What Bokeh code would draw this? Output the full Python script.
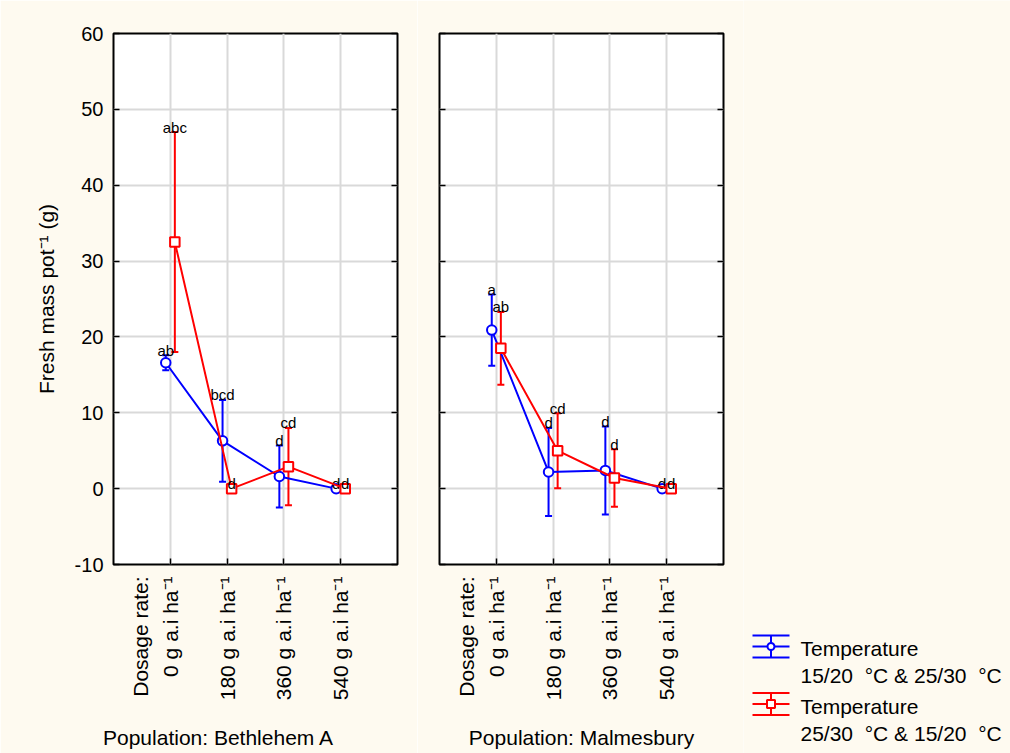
import math
from bokeh.plotting import figure
from bokeh.layouts import row, column
from bokeh.models import (ColumnDataSource, Whisker, FixedTicker, LinearAxis, Grid,
                          Range1d, CustomJSTickFormatter, TeeHead)
from bokeh.embed import file_html
from bokeh.resources import INLINE
from bokeh.core.properties import value

# ---------------- data ----------------
dose_positions = [0, 1, 2, 3]
dose_labels = ["0 g a.i ha⁻¹", "180 g a.i ha⁻¹", "360 g a.i ha⁻¹", "540 g a.i ha⁻¹"]
dose_title = "Dosage rate:"
y_ticks = [-10, 0, 10, 20, 30, 40, 50, 60]
y_tick_labels = ["-10", "0", "10", "20", "30", "40", "50", "60"]

series_names = ["Temperature\n15/20\u00a0 °C & 25/30\u00a0 °C",
                "Temperature\n25/30\u00a0 °C & 15/20\u00a0 °C"]

bethlehem_1520_mean = [16.6, 6.3, 1.6, 0.0]
bethlehem_1520_err = [1.0, 5.4, 4.1, 0.0]
bethlehem_1520_letters = ["ab", "bcd", "d", "d"]
bethlehem_2530_mean = [32.5, 0.0, 2.9, 0.0]
bethlehem_2530_err = [14.5, 0.0, 5.1, 0.0]
bethlehem_2530_letters = ["abc", "d", "cd", "d"]

malmesbury_1520_mean = [20.9, 2.2, 2.4, 0.0]
malmesbury_1520_err = [4.7, 5.8, 5.8, 0.0]
malmesbury_1520_letters = ["a", "d", "d", "d"]
malmesbury_2530_mean = [18.5, 5.0, 1.4, 0.0]
malmesbury_2530_err = [4.8, 4.95, 3.8, 0.0]
malmesbury_2530_letters = ["ab", "cd", "d", "d"]

# ---------------- style ----------------
FONT = "Liberation Sans"
CREAM = "#FEFAF0"
BLUE = "#0000FF"
RED = "#FF0000"
GRID = "#D9D9D9"
OFFSET = 0.08
FRAME_W = 284
FRAME_TOP = 33
FRAME_BOTTOM_BORDER = 189
HEIGHT = 753
DOSAGE_TITLE_X = -0.52


def style_axis(ax):
    ax.major_tick_in = 6
    ax.major_tick_out = 0
    ax.minor_tick_in = 0
    ax.minor_tick_out = 0
    ax.major_tick_line_color = "black"
    ax.major_tick_line_width = 1.5
    ax.axis_line_color = None


def empty_axis(ticks):
    ax = LinearAxis(ticker=FixedTicker(ticks=ticks),
                    formatter=CustomJSTickFormatter(code="return ''"))
    style_axis(ax)
    ax.major_label_standoff = 0
    return ax


def text_axis(ticks, labels, size, standoff, orientation="horizontal"):
    ax = LinearAxis(ticker=FixedTicker(ticks=ticks),
                    major_label_overrides={t: lab for t, lab in zip(ticks, labels)})
    ax.major_tick_in = 0
    ax.major_tick_out = 0
    ax.major_tick_line_color = None
    ax.minor_tick_line_color = None
    ax.axis_line_color = None
    ax.major_label_orientation = orientation
    ax.major_label_standoff = standoff
    ax.major_label_text_font = FONT
    ax.major_label_text_font_size = size
    ax.major_label_text_color = "black"
    return ax


def make_panel(blue_mean, blue_err, blue_letters, red_mean, red_err, red_letters,
               population, pop_x, border_left, with_ylabels):
    width = border_left + FRAME_W + 20
    p = figure(width=width, height=HEIGHT, x_range=Range1d(-1, 4), y_range=Range1d(-10, 60),
               output_backend="svg", toolbar_location=None,
               min_border_left=border_left, min_border_right=20,
               min_border_top=FRAME_TOP, min_border_bottom=FRAME_BOTTOM_BORDER,
               background_fill_color="white", border_fill_color=CREAM,
               outline_line_color="black", outline_line_width=2,
               x_axis_type=None, y_axis_type=None)

    # bottom: inward tick marks, rotated dose labels, population label
    p.add_layout(empty_axis(dose_positions), "below")
    p.add_layout(text_axis([DOSAGE_TITLE_X] + dose_positions, [dose_title] + dose_labels,
                           "21px", 12, math.pi / 2), "below")
    p.add_layout(text_axis([pop_x], [population], "21px", 22), "below")

    if with_ylabels:
        yax = LinearAxis(ticker=FixedTicker(ticks=y_ticks),
                         major_label_overrides={t: lab for t, lab in zip(y_ticks, y_tick_labels)})
        style_axis(yax)
        yax.major_label_standoff = 10
        yax.major_label_text_font = FONT
        yax.major_label_text_font_size = "20px"
        yax.major_label_text_color = "black"
        yax.axis_label = "Fresh mass pot⁻¹ (g)"
        yax.axis_label_text_font = FONT
        yax.axis_label_text_font_size = "21px"
        yax.axis_label_text_font_style = "normal"
        yax.axis_label_text_color = "black"
        yax.axis_label_standoff = 14
    else:
        yax = empty_axis(y_ticks)
    p.add_layout(yax, "left")
    p.add_layout(empty_axis(y_ticks), "right")

    p.add_layout(Grid(dimension=0, ticker=FixedTicker(ticks=dose_positions),
                      grid_line_color=GRID, grid_line_width=2))
    p.add_layout(Grid(dimension=1, ticker=FixedTicker(ticks=y_ticks),
                      grid_line_color=GRID, grid_line_width=2))

    for mean, err, letters, color, marker, off in [
        (blue_mean, blue_err, blue_letters, BLUE, "circle", -OFFSET),
        (red_mean, red_err, red_letters, RED, "square", OFFSET),
    ]:
        xs = [d + off for d in dose_positions]
        src = ColumnDataSource(dict(
            x=xs, y=mean,
            upper=[m + e for m, e in zip(mean, err)],
            lower=[m - e for m, e in zip(mean, err)],
            letters=letters))
        p.add_layout(Whisker(base="x", upper="upper", lower="lower", source=src,
                             line_color=color, line_width=2,
                             upper_head=TeeHead(size=7, line_color=color, line_width=2),
                             lower_head=TeeHead(size=7, line_color=color, line_width=2)))
        p.line("x", "y", source=src, line_color=color, line_width=2)
        p.scatter("x", "y", source=src, marker=marker, size=9.5, line_color=color,
                  line_width=2, fill_color="white")
        p.text("x", "upper", text="letters", source=src, text_align="center",
               text_baseline="alphabetic", y_offset=-5, text_font=value(FONT),
               text_font_size="15px", text_color="black")
    return p


p1 = make_panel(bethlehem_1520_mean, bethlehem_1520_err, bethlehem_1520_letters,
                bethlehem_2530_mean, bethlehem_2530_err, bethlehem_2530_letters,
                "Population: Bethlehem A", 0.85, 113, True)
p2 = make_panel(malmesbury_1520_mean, malmesbury_1520_err, malmesbury_1520_letters,
                malmesbury_2530_mean, malmesbury_2530_err, malmesbury_2530_letters,
                "Population: Malmesbury", 1.5, 22, False)

# ---------------- legend panel (pixel coordinates) ----------------
LEG_X0 = 743
p3 = figure(width=1010 - LEG_X0, height=HEIGHT, x_range=Range1d(LEG_X0, 1010),
            y_range=Range1d(HEIGHT, 0), output_backend="svg", toolbar_location=None,
            min_border_left=0, min_border_right=0, min_border_top=0, min_border_bottom=0,
            background_fill_color=CREAM, border_fill_color=CREAM, outline_line_color=None,
            x_axis_type=None, y_axis_type=None)
p3.grid.visible = False

legend_entries = [(series_names[0], BLUE, "circle", 646, 7),
                  (series_names[1], RED, "square", 703.5, 8)]
for name, color, marker, yc, msize in legend_entries:
    gx0, gx1, gxc, half = 752, 789, 770.5, 11
    p3.segment(x0=[gx0, gx0, gx0], y0=[yc - half, yc, yc + half],
               x1=[gx1, gx1, gx1], y1=[yc - half, yc, yc + half],
               line_color=color, line_width=2)
    p3.segment(x0=[gxc], y0=[yc - half], x1=[gxc], y1=[yc + half], line_color=color, line_width=2)
    p3.scatter(x=[gxc], y=[yc], marker=marker, size=msize, line_color=color,
               line_width=2, fill_color="white")
    lines = name.split("\n")
    p3.text(x=[800, 800], y=[yc + 2, yc + 29], text=lines, text_align="left",
            text_baseline="middle", text_font=value(FONT), text_font_size="21px",
            text_color="black")

layout = row(p1, p2, column(p3), spacing=0)
open("out.html", "w").write(file_html(layout, INLINE))
